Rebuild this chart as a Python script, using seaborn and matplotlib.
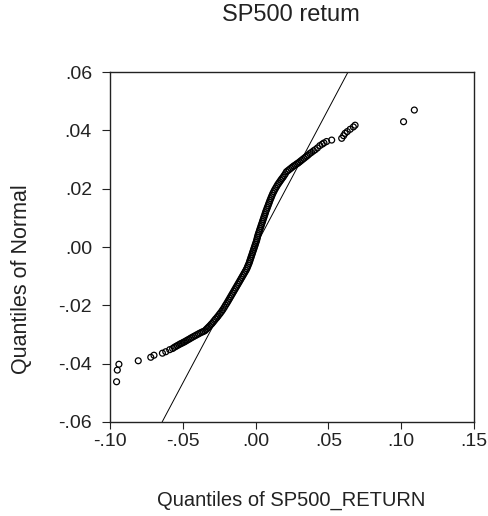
import matplotlib
matplotlib.use("Agg")
import matplotlib.pyplot as plt
from matplotlib.ticker import FuncFormatter
import pandas as pd
import seaborn as sns

# sample quantiles (x) vs normal quantiles (y)
return_q = [
    -0.0955, -0.0950, -0.0939, -0.0806, -0.0720, -0.0698, -0.0640, -0.0617, -0.0590, -0.0570,
    -0.0559, -0.0548, -0.0538, -0.0527, -0.0517, -0.0507, -0.0497, -0.0488, -0.0478, -0.0468,
    -0.0457, -0.0447, -0.0437, -0.0426, -0.0415, -0.0404, -0.0393, -0.0382, -0.0370, -0.0360,
    -0.0348, -0.0340, -0.0332, -0.0324, -0.0316, -0.0307, -0.0299, -0.0291, -0.0283, -0.0275,
    -0.0266, -0.0258, -0.0249, -0.0241, -0.0232, -0.0224, -0.0215, -0.0207,
    -0.0199, -0.0192, -0.0185, -0.0178, -0.0171, -0.0164, -0.0157, -0.0150, -0.0143, -0.0136,
    -0.0129, -0.0122, -0.0115, -0.0108, -0.0101, -0.0094, -0.0087, -0.0080, -0.0073, -0.0066,
    -0.0060, -0.0055, -0.0050, -0.0045, -0.0041, -0.0037, -0.0033, -0.0029, -0.0025, -0.0021,
    -0.0017, -0.0013, -0.0009, -0.0005, -0.0001, 0.0003, 0.0007, 0.0010, 0.0013, 0.0016,
    0.0020, 0.0024, 0.0028, 0.0032, 0.0036, 0.0040, 0.0044, 0.0048, 0.0052, 0.0056,
    0.0060, 0.0064, 0.0068, 0.0072, 0.0077, 0.0081, 0.0086, 0.0090, 0.0095, 0.0099,
    0.0104, 0.0109, 0.0114, 0.0119,
    0.0125, 0.0131, 0.0138, 0.0145, 0.0152, 0.0159, 0.0166, 0.0173, 0.0180, 0.0188,
    0.0196, 0.0204, 0.0212,
    0.0222, 0.0232, 0.0242, 0.0252, 0.0262, 0.0272, 0.0282, 0.0292, 0.0302, 0.0312,
    0.0322, 0.0332, 0.0342, 0.0352, 0.0362, 0.0373,
    0.0385, 0.0398, 0.0410, 0.0425, 0.0442, 0.0458, 0.0470, 0.0488, 0.0523,
    0.0592, 0.0605, 0.0615, 0.0630, 0.0650, 0.0672, 0.0684,
    0.1017, 0.1091,
]
normal_q = [
    -0.0462, -0.0422, -0.0402, -0.0390, -0.0378, -0.0371, -0.0364, -0.0359, -0.0352, -0.0348,
    -0.0344, -0.0341, -0.0338, -0.0335, -0.0332, -0.0330, -0.0327, -0.0325, -0.0322, -0.0319,
    -0.0316, -0.0313, -0.0310, -0.0307, -0.0304, -0.0301, -0.0298, -0.0295, -0.0292, -0.0290,
    -0.0287, -0.0283, -0.0279, -0.0275, -0.0271, -0.0266, -0.0262, -0.0257, -0.0252, -0.0247,
    -0.0242, -0.0237, -0.0231, -0.0226, -0.0220, -0.0214, -0.0207, -0.0200,
    -0.0194, -0.0188, -0.0182, -0.0176, -0.0170, -0.0164, -0.0158, -0.0152, -0.0146, -0.0140,
    -0.0134, -0.0128, -0.0122, -0.0116, -0.0110, -0.0104, -0.0098, -0.0092, -0.0086, -0.0080,
    -0.0074, -0.0068, -0.0062, -0.0056, -0.0050, -0.0044, -0.0038, -0.0032, -0.0026, -0.0020,
    -0.0014, -0.0008, -0.0002, 0.0004, 0.0010, 0.0016, 0.0022, 0.0028, 0.0034, 0.0040,
    0.0046, 0.0052, 0.0058, 0.0064, 0.0070, 0.0076, 0.0082, 0.0088, 0.0094, 0.0100,
    0.0106, 0.0112, 0.0118, 0.0124, 0.0130, 0.0136, 0.0142, 0.0148, 0.0154, 0.0160,
    0.0166, 0.0172, 0.0178, 0.0184,
    0.0190, 0.0196, 0.0202, 0.0208, 0.0214, 0.0219, 0.0224, 0.0229, 0.0234, 0.0239,
    0.0245, 0.0251, 0.0258,
    0.0262, 0.0266, 0.0270, 0.0274, 0.0278, 0.0281, 0.0285, 0.0288, 0.0292, 0.0296,
    0.0300, 0.0304, 0.0308, 0.0312, 0.0316, 0.0321,
    0.0325, 0.0330, 0.0334, 0.0340, 0.0348, 0.0353, 0.0357, 0.0362, 0.0367,
    0.0373, 0.0382, 0.0390, 0.0396, 0.0404, 0.0412, 0.0418,
    0.0430, 0.0470,
]

# reference line through two points
line_x = [-0.0642, 0.0635]
line_y = [-0.06, 0.06]

x_ticks = [-0.10, -0.05, 0.00, 0.05, 0.10, 0.15]
y_ticks = [-0.06, -0.04, -0.02, 0.00, 0.02, 0.04, 0.06]

title = "SP500 retum"
x_label = "Quantiles of SP500_RETURN"
y_label = "Quantiles of Normal"

sns.set_style("white")
plt.rcParams['font.family'] = ['Liberation Sans', 'DejaVu Sans']

df = pd.DataFrame({'ret': return_q, 'norm': normal_q})

fig = plt.figure(figsize=(4.89, 5.16), dpi=100)
ax = fig.add_axes([0.225, 0.1822, 0.744, 0.678])

sns.scatterplot(data=df, x='ret', y='norm', ax=ax, marker='o', s=18,
                facecolors='none', edgecolor='black', linewidth=0.9, legend=False)
ax.axline((line_x[0], line_y[0]), (line_x[1], line_y[1]), color='black', lw=0.7)

ax.set_xlim(x_ticks[0], x_ticks[-1])
ax.set_ylim(y_ticks[0], y_ticks[-1])
ax.set_xticks(x_ticks)
ax.set_yticks(y_ticks)

fmt = FuncFormatter(lambda v, pos: f"{v:.2f}".replace("0.", "."))
ax.xaxis.set_major_formatter(fmt)
ax.yaxis.set_major_formatter(fmt)
ax.tick_params(axis='both', direction='out', width=0.8, labelsize=14,
               colors='#222222', bottom=True, left=True)
ax.tick_params(axis='x', length=5, pad=3)
ax.tick_params(axis='y', length=6, pad=7)
ax.set_xlabel("")
ax.set_ylabel("")
for sp in ax.spines.values():
    sp.set_color('#222222')
    sp.set_linewidth(1.0)

fig.text(0.595, 0.970, title, ha='center', va='center', fontsize=17, color='#222222')
fig.text(0.595, 0.031, x_label, ha='center', va='center', fontsize=14.5, color='#222222')
fig.text(0.043, 0.459, y_label, ha='center', va='center', rotation=90, fontsize=15.5, color='#222222')

fig.savefig("out.png", dpi=100)
